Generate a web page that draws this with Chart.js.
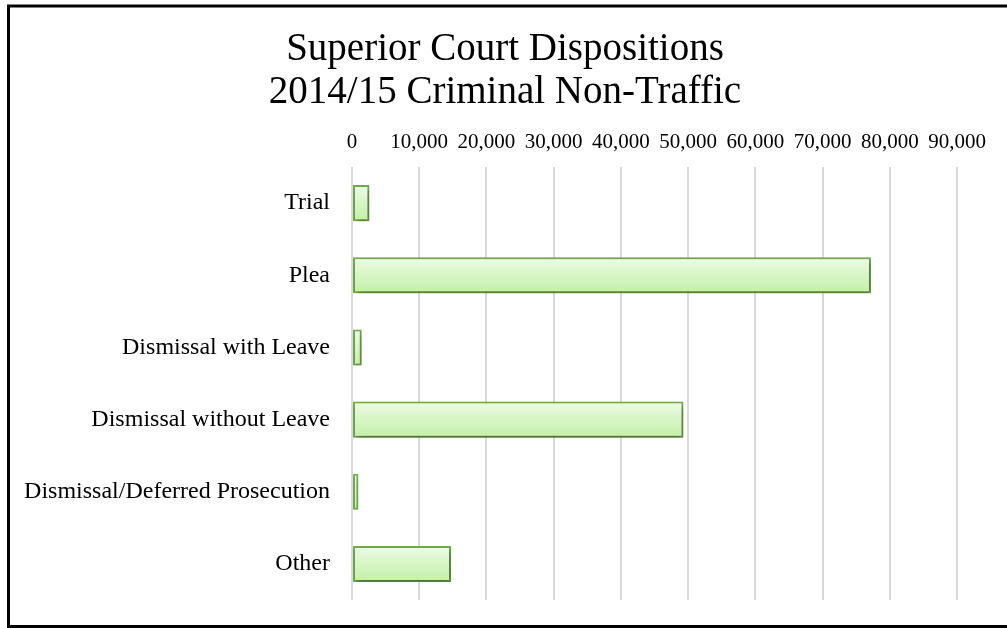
<!DOCTYPE html>
<html>
<head>
<meta charset="utf-8">
<script src="https://cdn.jsdelivr.net/npm/chart.js@4"></script>
<style>
  html, body { margin: 0; padding: 0; background: #fff; }
  #wrap { width: 1007px; height: 628px; position: relative; }
</style>
</head>
<body>
<div id="wrap"><canvas id="chart" width="1007" height="628"></canvas></div>
<script>
// data
const categories = ["Trial", "Plea", "Dismissal with Leave", "Dismissal without Leave", "Dismissal/Deferred Prosecution", "Other"];
const dispositions = [2580, 77200, 1440, 49300, 940, 14730];
const titleLines = ["Superior Court Dispositions", "2014/15 Criminal Non-Traffic"];
const axisMax = 90000;
const axisStep = 10000;

const serif = "'Liberation Serif', 'Times New Roman', serif";

// frame + white background
const framePlugin = {
    id: "frame",
    beforeDraw(chart) {
        const c = chart.ctx;
        c.save();
        c.fillStyle = "#fff";
        c.fillRect(0, 0, chart.width, chart.height);
        c.strokeStyle = "#000";
        c.lineWidth = 3;
        c.beginPath();
        c.moveTo(chart.width + 2, 6);
        c.lineTo(8.5, 6);
        c.lineTo(8.5, 626.5);
        c.lineTo(chart.width + 2, 626.5);
        c.stroke();
        c.restore();
    }
};

// soft drop shadow under the bars
const shadowPlugin = {
    id: "barShadow",
    beforeDatasetsDraw(chart) {
        const c = chart.ctx;
        c.save();
        c.shadowColor = "rgba(0,0,0,0.4)";
        c.shadowBlur = 6;
        c.shadowOffsetX = 2;
        c.shadowOffsetY = 3;
    },
    afterDatasetsDraw(chart) {
        chart.ctx.restore();
    }
};

function barGradient(context) {
    const chart = context.chart;
    const yScale = chart.scales.y;
    if (!chart.chartArea || !yScale) return "#d6f5c4";
    const mid = yScale.getPixelForValue(context.dataIndex);
    const h = yScale.height / categories.length * 0.5;
    if (!Number.isFinite(mid) || !Number.isFinite(h)) return "#d6f5c4";
    const g = chart.ctx.createLinearGradient(0, mid - h / 2, 0, mid + h / 2);
    g.addColorStop(0, "#ecfbe5");
    g.addColorStop(1, "#c3f0a6");
    return g;
}

let ctx = document.getElementById("chart").getContext("2d");
new Chart(ctx, {
    type: "bar",
    data: {
        labels: categories,
        datasets: [{
            label: "Dispositions",
            data: dispositions,
            backgroundColor: barGradient,
            borderColor: "#74b04c",
            borderWidth: 2,
            borderSkipped: false,
            barPercentage: 0.5,
            categoryPercentage: 1.0
        }]
    },
    options: {
        indexAxis: "y",
        responsive: false,
        animation: false,
        layout: {
            autoPadding: false,
            padding: { top: 28, left: 12, right: 9, bottom: 28 }
        },
        scales: {
            x: {
                position: "top",
                min: 0,
                max: axisMax,
                ticks: {
                    stepSize: axisStep,
                    color: "#000",
                    padding: 12,
                    maxRotation: 0,
                    autoSkip: false,
                    font: { family: serif, size: 21 },
                    callback: v => v.toLocaleString("en-US")
                },
                grid: { color: "#d9d9d9", lineWidth: 2, drawTicks: false },
                border: { display: false }
            },
            y: {
                ticks: {
                    color: "#000",
                    padding: 0,
                    font: { family: serif, size: 24 }
                },
                // invisible tick marks give the gap between labels and plot
                grid: { color: "rgba(0,0,0,0)", drawTicks: true, tickLength: 22, drawOnChartArea: false },
                border: { display: false },
                afterFit(scale) { scale.width = 340; }
            },
            // empty spacer on the right so the plot stops at 90,000
            spacer: {
                type: "linear",
                position: "right",
                display: true,
                ticks: { display: false },
                grid: { display: false, drawTicks: false },
                border: { display: false },
                afterFit(scale) { scale.width = 41; }
            }
        },
        plugins: {
            legend: { display: false },
            tooltip: { enabled: false },
            title: {
                display: true,
                text: titleLines,
                color: "#000",
                font: { family: serif, size: 39, weight: "normal", lineHeight: 1.1 },
                padding: { top: 0, bottom: 4 }
            }
        }
    },
    plugins: [framePlugin, shadowPlugin]
});
</script>
</body>
</html>
